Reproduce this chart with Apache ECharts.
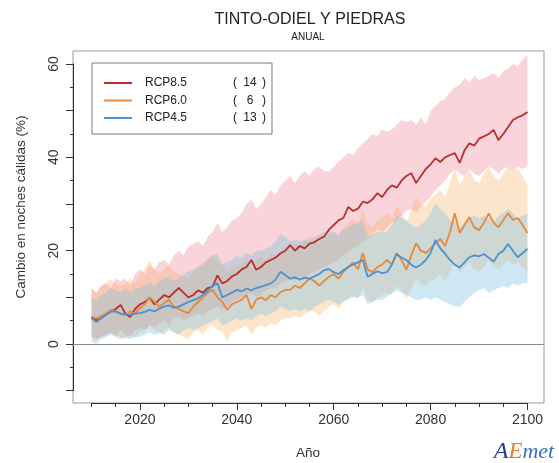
<!DOCTYPE html>
<html>
<head>
<meta charset="utf-8">
<script src="https://cdn.jsdelivr.net/npm/echarts@6/dist/echarts.min.js"></script>
<style>
html,body{margin:0;padding:0;background:#fff;}
#c{width:559px;height:463px;}
</style>
</head>
<body>
<div id="c"></div>
<script>
const years = [2010,2011,2012,2013,2014,2015,2016,2017,2018,2019,
2020,2021,2022,2023,2024,2025,2026,2027,2028,2029,
2030,2031,2032,2033,2034,2035,2036,2037,2038,2039,
2040,2041,2042,2043,2044,2045,2046,2047,2048,2049,
2050,2051,2052,2053,2054,2055,2056,2057,2058,2059,
2060,2061,2062,2063,2064,2065,2066,2067,2068,2069,
2070,2071,2072,2073,2074,2075,2076,2077,2078,2079,
2080,2081,2082,2083,2084,2085,2086,2087,2088,2089,
2090,2091,2092,2093,2094,2095,2096,2097,2098,2099,2100];

const scenarios = ['RCP8.5','RCP6.0','RCP4.5'];
const modelCounts = [14, 6, 13];

const rcp85Mean = [5.8,5.1,5.5,6.5,7.0,7.5,8.4,6.5,5.8,7.5,
8.5,9.0,9.9,8.5,9.5,10.5,10.0,11.0,12.0,11.0,
10.0,10.5,11.5,11.0,12.0,12.3,14.7,13.0,13.5,14.5,
15.0,16.0,16.5,18.0,15.9,16.5,17.5,18.0,18.5,19.4,
20.0,21.2,20.0,21.0,20.5,21.5,21.8,22.5,23.0,24.5,
25.5,26.5,27.0,29.4,28.5,29.0,30.5,30.2,31.0,32.3,
31.5,33.0,34.0,33.5,35.0,36.0,36.6,34.5,36.0,37.5,
38.5,39.8,39.0,40.0,40.5,40.9,38.8,41.5,43.0,42.5,
44.0,44.5,45.0,45.9,43.7,45.0,46.5,48.0,48.6,49.0,49.7];
const rcp85High = [12,11,12.5,13,12,14,13.5,14,12.5,15,
16,15,17,16,17.5,18,17,19,20,19,
21,21.5,22,21,23,24,26,24,25,26.5,
27,28,30,31,29,30,31.5,33,32,34,
35,36,34.5,36,37,36,37.5,38,37,37,
38,39,40,41,40.5,42,43,44,45,44.5,
46,45.5,46,47,48,47.5,48,47,48.5,47,
50,51,52,52.5,54,55,55.5,57,56,57.5,
56.5,57,57.5,58,57,58.5,59,60,59.5,61,62];
const rcp85Low = [1.5,1,1.5,2,2.5,1.5,3,2,1.5,3,
3.5,3,4,3.5,4.5,5,4,5.5,6,5,
5.5,6,6.5,6,7,7.5,8,7.5,8,9,
9.5,10,10.5,11,10,10.5,11.5,12,12,13,
13.5,14,13.5,14.5,14,15,15.5,16,16.5,17,
17.5,18,19,20,20.5,21,22,22.5,23.5,24.5,
24,25,26,26.5,27.5,28.5,29,28,29.5,30.5,
31.5,33,34,35,36.5,37.5,36.5,36,37.5,36.5,
36,37,38,37.5,36.5,37.5,38,37,38,37.5,38];

const rcp60Mean = [5.8,5.5,6.0,6.5,7.3,7.0,6.5,6.2,7.0,6.5,
7.7,8.5,10.0,9.0,8.0,8.8,9.5,8.0,7.5,7.0,
6.6,8.0,9.0,10.0,11.0,11.6,10.0,9.0,7.3,8.5,
9.0,9.5,10.5,7.5,9.5,10.0,9.4,10.5,10.0,11.1,
11.6,11.6,12.5,12.0,13.0,14.0,13.5,12.5,13.5,14.4,
15.0,14.0,15.5,16.5,17.5,16.0,19.5,16.0,15.4,16.5,
17.0,18.0,17.0,19.5,18.0,15.9,19.0,21.6,20.0,19.5,
20.5,21.6,22.5,21.0,24.0,28.0,23.8,25.5,27.2,25.0,
24.4,26.0,28.0,26.0,25.0,26.5,28.0,26.6,27.0,25.5,23.8];
const rcp60High = [12,11,12.5,13,14,13,12.5,13,14,13,
15,16,18,16,15,16,17,15.5,15,14.5,
14,15.5,16.5,17.5,18.5,19,18,17,15.5,16.5,
17,17.5,18.5,16,18,19,18,19.5,19,20,
21,20.5,21.5,21,22,23,22.5,21.5,22.5,23.5,
24,23,25,26,27,25.5,29,26,25,26.5,
27,28,27,29.5,28,26,29,31.5,30,29.5,
31,32,33,31.5,34.5,38,34,36,37.5,35,
34.5,36.5,38,36,35,36.5,38,37,37.5,36,34];
const rcp60Low = [1.5,1,1.5,2,2.5,2,1.5,1,2,1.5,
2.5,3,4,3,2,3,3.5,2.5,2,1.5,
1,2.5,3,2,3.5,4,3,2.5,0.5,2.5,
3,3.5,4,2,3.5,4,3.5,4.5,4,5,
5.5,5.5,6,5.5,6.5,7,7,6,7,8,
8.5,7.5,9,10,10.5,9.5,12,9.5,9,10,
10.5,11,10.5,12.5,11.5,9.5,12,14,13,12.5,
13.5,14,15,13.5,15.5,18,15,16.5,17.5,16,
15.5,16.5,18,16.5,16,17,18,17,17.5,16.5,15];

const rcp45Mean = [5.6,4.7,5.5,6.2,6.9,7.0,6.5,6.4,6.2,6.5,
6.6,6.9,7.3,7.0,7.6,8.0,8.3,7.8,8.0,8.5,
9.0,9.4,9.8,10.5,11.5,12.5,13.0,10.0,10.5,11.0,
11.6,11.3,11.9,11.5,12.0,12.3,12.6,13.0,13.8,15.5,
14.8,14.0,14.3,13.8,14.2,14.0,14.5,15.0,15.8,16.1,
15.4,15.0,15.8,16.5,17.0,17.5,18.0,14.4,15.0,15.6,
15.2,15.4,17.0,19.3,18.5,18.0,17.0,16.4,17.0,18.0,
19.5,22.3,20.5,19.3,18.0,17.0,16.4,17.5,18.6,19.0,
18.8,19.3,18.5,17.6,19.3,20.0,21.4,20.0,18.6,19.5,20.4];
const rcp45High = [10,9.5,10.5,11,12,11.5,11,12,11,12,
12,12.5,13,12.5,13.5,14,14.5,13.5,14,15,
15.5,16,16.5,17,18,19,19.5,17,17.5,18,
19,18.5,19.5,19,20,20,20.5,21,22,23.5,
23,22,22.5,22,22.5,22,23,23.5,24,24.5,
24,23.5,24.5,25,25.5,26,26.5,23,23.5,24,
24,24,25.5,27.5,27,26.5,25.5,25,25.5,26.5,
28,30,29,28,26.5,26,25,26,27,27.5,
27,27.5,27,26,27.5,28,29,28,27,27.5,28];
const rcp45Low = [0.5,0,1,1.5,2,1.5,1,1.5,1,1.5,
1.5,2,2.5,2,2.5,2,3,2.5,2,3,
3.5,3,3.5,4,4.5,5,5.5,4,4.5,5,
5.5,5,5.5,5,6,6.5,6,6.5,7,8,
7.5,7,7.5,7,7.5,7,8,8.5,9,9.5,
9,8.5,9,9.5,10,10,10.5,8.5,9,9.5,
9.5,10,11,11.5,11,10.5,10,9.5,9.5,10,
9.5,10,9.5,9,8.5,8,8,9,10,11,
11.5,12,11,11.5,12,12.5,12,13,12.5,13,13];

const xTickLabels = ['2020','2040','2060','2080','2100'];
const yTickLabels = ['0','20','40','60'];

const chart = echarts.init(document.getElementById('c'), null, {renderer:'canvas'});

function band(name, lo, hi, fill, z) {
  return {
    type:'custom', name: name, xAxisIndex:0, yAxisIndex:0, z:z, silent:true, clip:true,
    data: years.map((y,i)=>[y, lo[i], hi[i]]),
    encode:{x:0, y:[1,2]},
    renderItem: function(params, api){
      if (params.dataIndex !== 0) return null;
      const top=[], bot=[];
      for (let i=0;i<years.length;i++){
        top.push(api.coord([years[i], hi[i]]));
        bot.push(api.coord([years[i], lo[i]]));
      }
      return {type:'polygon', shape:{points: top.concat(bot.reverse())}, style:{fill: fill}};
    }
  };
}
function line(name, vals, color, z) {
  return {
    type:'line', name:name, xAxisIndex:0, yAxisIndex:0, z:z,
    data: years.map((y,i)=>[y, vals[i]]),
    symbol:'none', showSymbol:false,
    lineStyle:{color:color, width:1.8}, itemStyle:{color:color},
    emphasis:{disabled:true}
  };
}

const counts = {};
scenarios.forEach((s,i)=>counts[s]=modelCounts[i]);

const hiddenX = (g)=>({type:'value', gridIndex:g, show:false, min:0, max:1});
const hiddenY = (g)=>({type:'value', gridIndex:g, show:false, min:0, max:1});
const axisCol = '#333';
const FONT = 'Liberation Sans, Arial, sans-serif';

const option = {
  animation:false,
  grid:[
    {left:73, right:15, top:51, bottom:60, show:true, borderColor:'#9a9a9a', borderWidth:1, backgroundColor:'transparent'},
    {left:91.5, right:31.5, top:51, bottom:60},
    {left:139.94, right:31.5, top:51, bottom:60},
    {left:73, right:15, top:64, bottom:72.33},
    {left:73, right:15, top:64, bottom:72.33}
  ],
  xAxis:[
    {type:'value', gridIndex:0, show:false, min:2006.18, max:2103.41},
    {type:'value', gridIndex:1, min:2010, max:2100, interval:5,
      axisLine:{show:true, onZero:false, lineStyle:{color:axisCol, width:1}},
      axisTick:{show:true, length:4, lineStyle:{color:axisCol}},
      axisLabel:{show:false}, splitLine:{show:false}},
    {type:'value', gridIndex:2, min:2020, max:2100, interval:20,
      axisLine:{show:false, onZero:false},
      axisTick:{show:true, length:7, lineStyle:{color:axisCol}},
      axisLabel:{show:true, margin:10, fontSize:14, color:'#333', fontFamily:FONT,
        formatter:(v)=>xTickLabels.indexOf(String(v))>=0?String(v):''},
      splitLine:{show:false}},
    hiddenX(3), hiddenX(4)
  ],
  yAxis:[
    {type:'value', gridIndex:0, show:false, min:-12.64, max:62.79},
    hiddenY(1), hiddenY(2),
    {type:'value', gridIndex:3, min:-10, max:60, interval:5,
      axisLine:{show:true, onZero:false, lineStyle:{color:axisCol, width:1}},
      axisTick:{show:true, length:3, lineStyle:{color:axisCol}},
      axisLabel:{show:false}, splitLine:{show:false}},
    {type:'value', gridIndex:4, min:-10, max:60, interval:10,
      axisLine:{show:false, onZero:false},
      axisTick:{show:true, length:7, lineStyle:{color:axisCol}},
      axisLabel:{show:true, rotate:90, margin:12, fontSize:14, color:'#333', fontFamily:FONT,
        formatter:(v)=>yTickLabels.indexOf(String(v))>=0?String(v):''},
      splitLine:{show:false}}
  ],
  legend:{
    show:true, orient:'vertical', left:92, top:63,
    data:scenarios.map(s=>({name:s, icon:'path://M0,0H28V2H0Z'})),
    symbolKeepAspect:true,
    padding:[14,6,10,12], itemGap:5.5, itemWidth:28, itemHeight:14,
    borderColor:'#7a7a7a', borderWidth:1, borderRadius:0, backgroundColor:'#fff',
    selectedMode:false,
    formatter:(name)=>'{n|'+name+'}{o|(}{v|'+counts[name]+'}{c|)}',
    textStyle:{fontSize:12, color:'#222', fontFamily:FONT,
      rich:{
        n:{width:88, padding:[0,0,0,8], fontSize:12, lineHeight:14, color:'#222'},
        o:{width:10, fontSize:12, lineHeight:14, color:'#222'},
        v:{width:14, align:'right', fontSize:12, lineHeight:14, color:'#222'},
        c:{padding:[0,0,0,5], fontSize:12, lineHeight:14, color:'#222'}
      }}
  },
  series:[
    band('b85', rcp85Low, rcp85High, 'rgba(240,130,150,0.34)', 2),
    band('b60', rcp60Low, rcp60High, 'rgba(250,175,95,0.32)', 3),
    band('b45', rcp45Low, rcp45High, 'rgba(125,192,222,0.38)', 4),
    Object.assign(line('RCP8.5', rcp85Mean, '#bb2f2d', 10), {
      markLine:{silent:true, symbol:['none','none'], label:{show:false},
        lineStyle:{color:'#8a8a8a', type:'solid', width:1},
        data:[{yAxis:0}]}
    }),
    line('RCP6.0', rcp60Mean, '#e8883a', 11),
    line('RCP4.5', rcp45Mean, '#4a92d0', 12)
  ],
  graphic:[
    {type:'text', x:310, y:20, style:{text:'TINTO-ODIEL Y PIEDRAS', fontSize:16, fontFamily:FONT, fill:'#222', textAlign:'center', textVerticalAlign:'middle'}},
    {type:'text', x:308, y:37, style:{text:'ANUAL', fontSize:10, fontFamily:FONT, fill:'#222', textAlign:'center', textVerticalAlign:'middle'}},
    {type:'text', x:21, y:207, rotation:Math.PI/2, style:{text:'Cambio en noches cálidas (%)', fontSize:13.5, fontFamily:FONT, fill:'#333', textAlign:'center', textVerticalAlign:'middle'}},
    {type:'text', x:308, y:453, style:{text:'Año', fontSize:13.5, fontFamily:FONT, fill:'#333', textAlign:'center', textVerticalAlign:'middle'}},
    {type:'text', x:524, y:452, style:{text:'{a|A}{e|E}{m|met}', textAlign:'center', textVerticalAlign:'middle',
      rich:{
        a:{fontSize:24, fontStyle:'italic', fontFamily:'Liberation Serif, serif', fill:'#1f3f8f'},
        e:{fontSize:23, fontStyle:'italic', fontFamily:'Liberation Serif, serif', fill:'#e67e2e'},
        m:{fontSize:22, fontStyle:'italic', fontFamily:'Liberation Serif, serif', fill:'#3d6fb6'}
      }}}
  ]
};
chart.setOption(option);
</script>
</body>
</html>
